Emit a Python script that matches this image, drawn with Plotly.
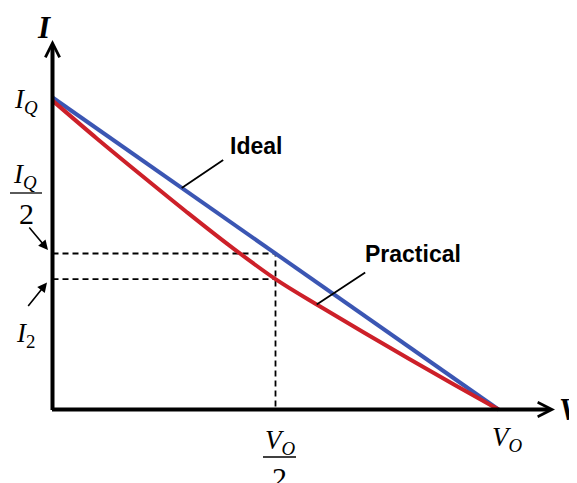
import numpy as np
import plotly.graph_objects as go

# normalised voltage (V / V_O) and current (I / I_Q)
V = [0, 0.1, 0.2, 0.3, 0.4, 0.5, 0.6, 0.7, 0.8, 0.9, 1.0]
I_ideal = [1.0, 0.9, 0.8, 0.7, 0.6, 0.5, 0.4, 0.3, 0.2, 0.1, 0.0]
I_practical = [0.99, 0.868, 0.750, 0.634, 0.522, 0.418, 0.330, 0.245, 0.162, 0.080, 0.0]

V_half = 0.5
I_half = float(np.interp(V_half, V, I_ideal))
I_2 = float(np.interp(V_half, V, I_practical))

# the page body adds an 8px margin, so the figure is drawn 8px smaller and shifted
PAD = 8
W, H = 577 - PAD, 483 - PAD
# screen positions of the origin, V_O and I_Q
X0_PX, VO_PX = 52.5, 498.5
Y0_PX, IQ_PX = 409.5, 97.5
sx = VO_PX - X0_PX
sy = Y0_PX - IQ_PX


def px2x(px):
    return (px - X0_PX) / sx


def px2y(py):
    return (Y0_PX - py) / sy


BLUE = "#3b56b3"
RED = "#cd2029"
SERIF = "Liberation Serif"
SANS = "Liberation Sans"

fig = go.Figure()

# dashed guides at V_O/2
fig.add_trace(go.Scatter(x=[0, V_half, V_half], y=[I_half, I_half, 0], mode="lines",
                         line=dict(color="black", width=1.8, dash="6px,4px"), showlegend=False))
fig.add_trace(go.Scatter(x=[0, V_half], y=[I_2, I_2], mode="lines",
                         line=dict(color="black", width=1.8, dash="6px,4px"), showlegend=False))

fig.add_trace(go.Scatter(x=V, y=I_ideal, mode="lines", line=dict(color=BLUE, width=4),
                         name="Ideal", showlegend=False))
fig.add_trace(go.Scatter(x=V, y=I_practical, mode="lines", line=dict(color=RED, width=4, shape="spline"),
                         name="Practical", showlegend=False))

annotations = []

# axes drawn as arrows
annotations.append(dict(x=0, y=px2y(40), ax=0, ay=px2y(411.5), xref="x", yref="y", axref="x", ayref="y",
                        text="", showarrow=True, arrowhead=5, arrowsize=0.7, arrowwidth=4,
                        arrowcolor="black", standoff=0, startstandoff=0))
annotations.append(dict(x=px2x(555), y=0, ax=px2x(50.5), ay=0, xref="x", yref="y", axref="x", ayref="y",
                        text="", showarrow=True, arrowhead=5, arrowsize=0.7, arrowwidth=4,
                        arrowcolor="black", standoff=0, startstandoff=0))


def label(text, cx, cy, size=27, family=SERIF, xanchor="center"):
    annotations.append(dict(x=(cx - PAD) / W, y=1 - (cy - PAD) / H, xref="paper", yref="paper", text=text,
                            showarrow=False, xanchor=xanchor, yanchor="middle",
                            font=dict(family=family, size=size, color="black")))


# axis titles
label("<b><i>I</i></b>", 44, 27, size=31)
label("<b><i>V</i></b>", 557, 409, size=31, xanchor="left")

# y-side labels
label("<i>I</i><sub><i>Q</i></sub>", 26, 101)
label("<i>I</i><sub><i>Q</i></sub>", 25, 176)
label("2", 26, 213, size=30)
label("<i>I</i><sub>2</sub>", 25, 335)

# x-side labels
label("<i>V</i><sub><i>O</i></sub>", 507, 439)
label("<i>V</i><sub><i>O</i></sub>", 280, 442)
label("2", 279, 477, size=30)

# curve names
label("<b>Ideal</b>", 256, 146, size=23, family=SANS)
label("<b>Practical</b>", 413, 254, size=23, family=SANS)

# pointers
annotations.append(dict(x=px2x(181.7), y=float(np.interp(px2x(181.7), V, I_ideal)), xref="x", yref="y",
                        ax=43, ay=-29, text="", showarrow=True, arrowhead=0, arrowwidth=1.8,
                        arrowcolor="black", standoff=0, startstandoff=0))
annotations.append(dict(x=px2x(316.7), y=float(np.interp(px2x(316.7), V, I_practical)), xref="x", yref="y",
                        ax=50, ay=-33, text="", showarrow=True, arrowhead=0, arrowwidth=1.8,
                        arrowcolor="black", standoff=0, startstandoff=0))
annotations.append(dict(x=0, y=I_half, xref="x", yref="y", xshift=-4.5, yshift=3.5,
                        ax=-20, ay=-24, text="", showarrow=True, arrowhead=2, arrowsize=1.2, arrowwidth=1.6,
                        arrowcolor="black", standoff=0, startstandoff=0))
annotations.append(dict(x=0, y=I_2, xref="x", yref="y", xshift=-5.5, yshift=-3.5,
                        ax=-20, ay=25, text="", showarrow=True, arrowhead=2, arrowsize=1.2, arrowwidth=1.6,
                        arrowcolor="black", standoff=0, startstandoff=0))

# fraction bars
shapes = [
    dict(type="line", xref="paper", yref="paper", x0=(10 - PAD) / W, x1=(42 - PAD) / W,
         y0=1 - (193 - PAD) / H, y1=1 - (193 - PAD) / H, line=dict(color="black", width=1.3)),
    dict(type="line", xref="paper", yref="paper", x0=(263 - PAD) / W, x1=(296 - PAD) / W,
         y0=1 - (457 - PAD) / H, y1=1 - (457 - PAD) / H, line=dict(color="black", width=1.3)),
]

fig.update_layout(
    width=W, height=H,
    margin=dict(l=0, r=0, t=0, b=0),
    paper_bgcolor="white", plot_bgcolor="white",
    xaxis=dict(range=[px2x(PAD), px2x(PAD + W)], visible=False),
    yaxis=dict(range=[px2y(PAD + H), px2y(PAD)], visible=False),
    annotations=annotations,
    shapes=shapes,
)

fig.write_html("out.html")
